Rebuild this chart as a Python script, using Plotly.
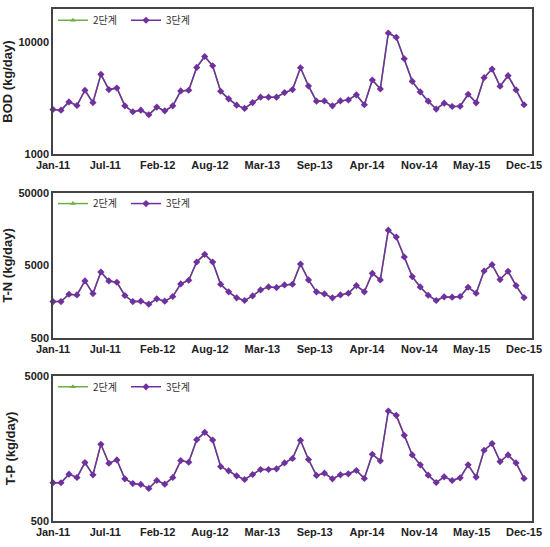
import math
import plotly.graph_objects as go

months = [f"{m}-{y}" for y in ["11", "12", "13", "14", "15"]
          for m in ["Jan", "Feb", "Mar", "Apr", "May", "Jun", "Jul", "Aug", "Sep", "Oct", "Nov", "Dec"]]
tick_labels = ["Jan-11", "Jul-11", "Feb-12", "Aug-12", "Mar-13", "Sep-13", "Apr-14", "Nov-14", "May-15", "Dec-15"]

bod_3 = [2515, 2480, 2940, 2730, 3740, 2900, 5190, 3790, 3920, 2710,
         2400, 2480, 2255, 2640, 2445, 2710, 3690, 3740, 5990, 7500,
         6200, 3660, 3130, 2750, 2570, 2900, 3240, 3240, 3240, 3565,
         3790, 5950, 4085, 2985, 3000, 2710, 3000, 3065, 3400, 2770,
         4620, 3845, 12190, 11150, 7160, 4495, 3610, 2985, 2533, 2865,
         2675, 2690, 3445, 2884, 4845, 5790, 4060, 5050, 3765, 2770]
tn_3 = [1592, 1592, 2010, 1968, 3062, 2052, 4070, 3062, 2937, 1927,
        1592, 1610, 1465, 1734, 1610, 1867, 2785, 3128, 5580, 7120,
        5580, 2756, 2165, 1790, 1645, 1906, 2305, 2534, 2483, 2700,
        2756, 5245, 3160, 2165, 2030, 1790, 1968, 2074, 2644, 2165,
        3900, 3160, 15350, 12310, 6545, 3513, 2534, 1947, 1645, 1848,
        1830, 1867, 2508, 2074, 4200, 5130, 3195, 4160, 2644, 1808]
tp_3 = [917, 917, 1051, 997, 1264, 1040, 1689, 1250, 1318, 976,
        907, 893, 838, 951, 897, 997, 1304, 1271, 1818, 2041,
        1808, 1186, 1108, 1024, 966, 1046, 1132, 1132, 1144, 1257,
        1347, 1800, 1327, 1030, 1068, 976, 1040, 1057, 1114, 982,
        1442, 1298, 2861, 2672, 1947, 1426, 1219, 1035, 921, 1008,
        951, 992, 1219, 1003, 1537, 1707, 1284, 1426, 1257, 982]
# 2단계 series coincides with 3단계 (hidden underneath in the reference)
bod_2 = list(bod_3)
tn_2 = list(tn_3)
tp_2 = list(tp_3)

y_titles = ["BOD (kg/day)", "T-N (kg/day)", "T-P (kg/day)"]
y_ticks = [[1000, 10000], [500, 5000, 50000], [500, 5000]]
y_ranges = [[1000, 20000], [500, 50000], [500, 5000]]

GREEN = "#70AD47"
PURPLE = "#7030A0"
FONT = "Liberation Sans"
KFONT = "Noto Sans CJK KR"

x = list(range(len(months)))
n = len(months)
tickpos = [round(k * (n - 1) / (len(tick_labels) - 1), 3) for k in range(len(tick_labels))]

fig = go.Figure()
domains = [[0.7165, 1.0], [0.3573, 0.6408], [0.0, 0.2835]]
legend_y = [0.978, 0.620, 0.262]
series = [(bod_2, bod_3), (tn_2, tn_3), (tp_2, tp_3)]

for i, (s2, s3) in enumerate(series):
    suf = "" if i == 0 else str(i + 1)
    leg = "legend" if i == 0 else f"legend{i+1}"
    fig.add_trace(go.Scatter(x=x, y=s2, mode="lines+markers", name="2단계",
                             line=dict(color=GREEN, width=1.5),
                             marker=dict(symbol="triangle-up", size=5, color=GREEN),
                             xaxis="x" + suf, yaxis="y" + suf, legend=leg, cliponaxis=False))
    fig.add_trace(go.Scatter(x=x, y=s3, mode="lines+markers", name="3단계",
                             line=dict(color=PURPLE, width=1.5),
                             marker=dict(symbol="diamond", size=5.5, color=PURPLE),
                             xaxis="x" + suf, yaxis="y" + suf, legend=leg, cliponaxis=False))
    fig.layout["xaxis" + suf] = dict(
        domain=[0, 1], anchor="y" + suf, range=[0, n],
        tickmode="array", tickvals=tickpos, ticktext=tick_labels,
        showgrid=False, zeroline=False, showline=True, mirror=True,
        linecolor="#444", linewidth=1.5, ticks="", automargin=False,
        tickfont=dict(family=FONT, size=11, color="#222", weight="bold"))
    fig.layout["yaxis" + suf] = dict(
        domain=domains[i], anchor="x" + suf, type="log",
        range=[math.log10(y_ranges[i][0]), math.log10(y_ranges[i][1])],
        tickmode="array", tickvals=y_ticks[i], ticktext=[str(v) for v in y_ticks[i]],
        showgrid=False, zeroline=False, showline=True, mirror=True,
        linecolor="#444", linewidth=1.5, ticks="", automargin=False,
        title=dict(text=y_titles[i], font=dict(family=FONT, size=13, color="#222", weight="bold"), standoff=6),
        tickfont=dict(family=FONT, size=11, color="#222", weight="bold"))
    fig.layout[leg] = dict(
        x=0.0, y=legend_y[i], xanchor="left", yanchor="middle",
        orientation="h", bgcolor="rgba(0,0,0,0)",
        font=dict(family=KFONT, size=10, color="#333"),
        itemwidth=30, entrywidth=28, tracegroupgap=0)

fig.update_layout(
    width=550, height=547,
    margin=dict(l=53, r=18, t=6, b=26),
    paper_bgcolor="white", plot_bgcolor="white",
    showlegend=True,
)

fig.write_html("out.html", config={"displayModeBar": False},
               post_script="document.body.style.margin='0';")
